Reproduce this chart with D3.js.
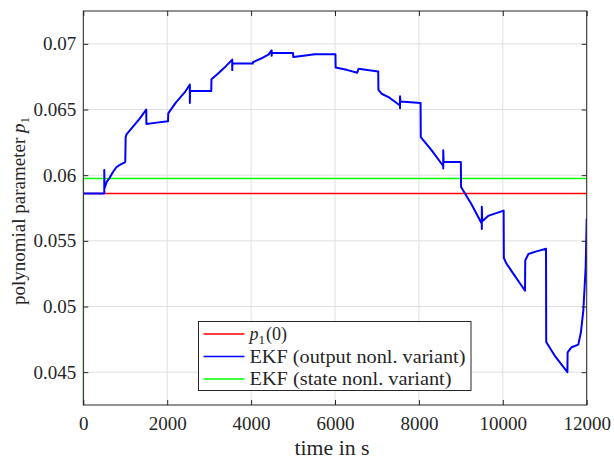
<!DOCTYPE html>
<html>
<head>
<meta charset="utf-8">
<script src="https://cdn.jsdelivr.net/npm/d3@7"></script>
<style>
  html, body { margin: 0; padding: 0; background: #fff; }
  svg { display: block; font-family: "Liberation Serif", "DejaVu Serif", serif; }
</style>
</head>
<body>
<svg id="chart" width="614" height="462"></svg>
<script>
// Axis ticks
const xTicks = [0, 2000, 4000, 6000, 8000, 10000, 12000];
const xTickLabels = ["0", "2000", "4000", "6000", "8000", "10000", "12000"];
const yTicks = [0.045, 0.05, 0.055, 0.06, 0.065, 0.07];
const yTickLabels = ["0.045", "0.05", "0.055", "0.06", "0.065", "0.07"];

// Initial polynomial parameter p1(0)
const p1InitTime = [0, 12000];
const p1InitValue = [0.0586, 0.0586];

// EKF, output nonlinearity variant
const ekfOutTime = [
  0, 500, 500, 505, 560, 629, 700, 787, 880, 1000,
  1010, 1030, 1185, 1344, 1500, 1505, 1750, 2020,
  2025, 2200, 2417, 2540, 2540, 2545, 3050,
  3055, 3200, 3400, 3550, 3550, 3555, 4040,
  4045, 4250, 4420, 4490, 4490, 4495, 5000,
  5005, 5250, 5520, 6010,
  6015, 6300, 6530, 6560, 7030,
  7035, 7110, 7300, 7550, 7550, 7550, 7560, 8040,
  8045, 8300, 8580, 8580, 8580, 8590, 9000,
  9005, 9250, 9500, 9500, 9500, 9510, 9650, 10020,
  10025, 10080, 10250, 10530,
  10535, 10610, 10800, 11030,
  11035, 11250, 11540,
  11545, 11640, 11800, 11860, 11920, 11976, 12000
];
const ekfOutValue = [
  0.0586, 0.0586, 0.0604, 0.0590, 0.0595, 0.0598, 0.0602, 0.0606, 0.0608, 0.0610,
  0.0629, 0.0631, 0.0637, 0.0643, 0.0650, 0.0639, 0.0640, 0.0641,
  0.0647, 0.0655, 0.0663, 0.0669, 0.0655, 0.0664, 0.0664,
  0.0673, 0.0677, 0.0683, 0.0688, 0.0680, 0.0685, 0.0685,
  0.0686, 0.0689, 0.0692, 0.0695, 0.0691, 0.0693, 0.0693,
  0.0690, 0.0691, 0.0692, 0.0692,
  0.0682, 0.0680, 0.0678, 0.0681, 0.0679,
  0.0665, 0.0662, 0.0659, 0.0653, 0.0651, 0.0660, 0.0656, 0.0655,
  0.0629, 0.0619, 0.0607, 0.0605, 0.0619, 0.0610, 0.0610,
  0.0591, 0.0578, 0.0563, 0.0559, 0.0576, 0.0565, 0.0569, 0.0573,
  0.0537, 0.0533, 0.0525, 0.0512,
  0.0535, 0.0540, 0.0542, 0.0544,
  0.0473, 0.0462, 0.0450,
  0.0465, 0.0469, 0.0471, 0.0480, 0.0497, 0.0530, 0.0567
];

// EKF, state nonlinearity variant
const ekfStateTime = [0, 0, 12000];
const ekfStateValue = [0.0, 0.05975, 0.05975];

const legendLabels = ["p1(0)", "EKF (output nonl. variant)", "EKF (state nonl. variant)"];
const seriesColors = ["#ff0000", "#0000ff", "#00ff00"];

const width = 614, height = 462;
const margin = { top: 11, right: 27.3, bottom: 57, left: 83.3 };
const innerW = width - margin.left - margin.right;
const innerH = height - margin.top - margin.bottom;
const axisColor = "#262626";

const svg = d3.select("#chart");
const g = svg.append("g").attr("transform", `translate(${margin.left},${margin.top})`);

const x = d3.scaleLinear().domain([0, 12000]).range([0, innerW]);
const y = d3.scaleLinear().domain([0.0425, 0.0725]).range([innerH, 0]);

// grid
g.append("g").selectAll("line").data(xTicks).join("line")
  .attr("x1", d => x(d)).attr("x2", d => x(d))
  .attr("y1", 0).attr("y2", innerH)
  .attr("stroke", "#e0e0e0").attr("stroke-width", 1);
g.append("g").selectAll("line").data(yTicks).join("line")
  .attr("x1", 0).attr("x2", innerW)
  .attr("y1", d => y(d)).attr("y2", d => y(d))
  .attr("stroke", "#e0e0e0").attr("stroke-width", 1);

svg.append("defs").append("clipPath").attr("id", "plotClip")
  .append("rect").attr("x", 0).attr("y", 0).attr("width", innerW).attr("height", innerH);

const line = d3.line().x(d => x(d[0])).y(d => y(d[1]));
const plot = g.append("g").attr("clip-path", "url(#plotClip)");

const zip = (a, b) => a.map((t, i) => [t, b[i]]);

plot.append("path").datum(zip(p1InitTime, p1InitValue))
  .attr("d", line).attr("fill", "none")
  .attr("stroke", seriesColors[0]).attr("stroke-width", 1.4);
plot.append("path").datum(zip(ekfStateTime, ekfStateValue))
  .attr("d", line).attr("fill", "none")
  .attr("stroke", seriesColors[2]).attr("stroke-width", 1.6);
plot.append("path").datum(zip(ekfOutTime, ekfOutValue))
  .attr("d", line).attr("fill", "none")
  .attr("stroke", seriesColors[1]).attr("stroke-width", 2)
  .attr("stroke-linejoin", "round");

// axes (box with inward ticks)
const tickLen = 5;
const fs = 19;
const xAxisB = d3.axisBottom(x).tickValues(xTicks).tickSizeInner(-tickLen).tickSizeOuter(0).tickPadding(12)
  .tickFormat((d, i) => xTickLabels[i]);
const xAxisT = d3.axisTop(x).tickValues(xTicks).tickSizeInner(-tickLen).tickSizeOuter(0).tickFormat("");
const yAxisL = d3.axisLeft(y).tickValues(yTicks).tickSizeInner(-tickLen).tickSizeOuter(0).tickPadding(7)
  .tickFormat((d, i) => yTickLabels[i]);
const yAxisR = d3.axisRight(y).tickValues(yTicks).tickSizeInner(-tickLen).tickSizeOuter(0).tickFormat("");

function styleAxis(sel) {
  sel.select(".domain").remove();
  sel.selectAll(".tick line").attr("stroke", axisColor);
  sel.selectAll(".tick text").attr("fill", axisColor)
    .style("font-family", '"Liberation Serif", serif').style("font-size", fs + "px");
}
g.append("g").attr("transform", `translate(0,${innerH})`).call(xAxisB).call(styleAxis);
g.append("g").call(xAxisT).call(styleAxis);
g.append("g").call(yAxisL).call(styleAxis);
g.append("g").attr("transform", `translate(${innerW},0)`).call(yAxisR).call(styleAxis);

g.append("rect").attr("x", 0).attr("y", 0).attr("width", innerW).attr("height", innerH)
  .attr("fill", "none").attr("stroke", axisColor).attr("stroke-width", 1);

// axis labels
svg.append("text")
  .attr("x", margin.left + innerW / 2 - 3).attr("y", 455)
  .attr("text-anchor", "middle").attr("fill", axisColor)
  .attr("textLength", 75).attr("lengthAdjust", "spacingAndGlyphs")
  .style("font-size", "20px")
  .text("time in s");

const yl = svg.append("text")
  .attr("transform", `translate(25,${margin.top + innerH / 2 + 3}) rotate(-90)`)
  .attr("text-anchor", "middle").attr("fill", axisColor)
  .style("font-size", fs + "px");
yl.append("tspan").text("polynomial parameter ");
yl.append("tspan").attr("font-style", "italic").text("p");
yl.append("tspan").attr("font-size", "13px").attr("dy", 4).text("1");

// legend
const leg = svg.append("g").attr("transform", "translate(198.5,321.5)");
leg.append("rect").attr("width", 272.5).attr("height", 69)
  .attr("fill", "#fff").attr("stroke", axisColor).attr("stroke-width", 1);
const rowY = [12.5, 35, 57.5];
const legendWidths = [null, 216, 202];
legendLabels.forEach((lbl, i) => {
  leg.append("line").attr("x1", 5).attr("x2", 46)
    .attr("y1", rowY[i]).attr("y2", rowY[i])
    .attr("stroke", seriesColors[i]).attr("stroke-width", i === 1 ? 1.6 : 1.4);
  const t = leg.append("text").attr("x", 51).attr("y", rowY[i] + 6)
    .attr("fill", axisColor).style("font-size", "18px");
  if (i === 0) {
    t.append("tspan").attr("font-style", "italic").text("p");
    t.append("tspan").attr("font-size", "13px").attr("dy", 4).text("1");
    t.append("tspan").attr("dy", -4).attr("dx", 1).text("(0)");
  } else {
    t.attr("textLength", legendWidths[i]).attr("lengthAdjust", "spacingAndGlyphs").text(lbl);
  }
});
</script>
</body>
</html>
